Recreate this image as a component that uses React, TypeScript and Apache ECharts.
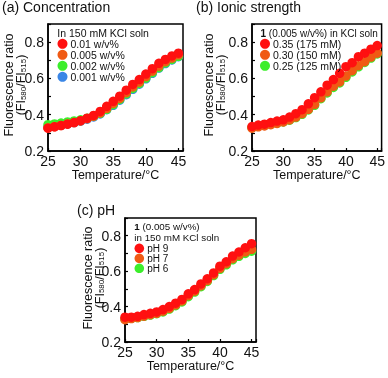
import React, { useEffect, useRef } from "react";
import * as echarts from "echarts";

const temps = [25, 26, 27, 28, 29, 30, 31, 32, 33, 34, 35, 36, 37, 38, 39, 40, 41, 42, 43, 44, 45];

// (a) Concentration
const concNames = ["0.01 w/v%", "0.005 w/v%", "0.002 w/v%", "0.001 w/v%"];
const conc001 = [0.326, 0.333, 0.340, 0.348, 0.357, 0.367, 0.381, 0.396, 0.418, 0.446, 0.474, 0.502, 0.535, 0.567, 0.594, 0.624, 0.654, 0.683, 0.705, 0.724, 0.739];
const conc0005 = [0.328, 0.334, 0.341, 0.349, 0.357, 0.366, 0.378, 0.392, 0.410, 0.435, 0.462, 0.490, 0.522, 0.553, 0.580, 0.610, 0.640, 0.668, 0.692, 0.712, 0.730];
const conc0002 = [0.345, 0.349, 0.354, 0.360, 0.366, 0.372, 0.380, 0.392, 0.408, 0.430, 0.456, 0.484, 0.515, 0.545, 0.572, 0.602, 0.632, 0.660, 0.685, 0.705, 0.722];
const conc0001 = [0.332, 0.337, 0.343, 0.350, 0.357, 0.365, 0.375, 0.388, 0.404, 0.428, 0.452, 0.480, 0.510, 0.540, 0.568, 0.598, 0.628, 0.657, 0.682, 0.702, 0.720];

// (b) Ionic strength
const ionNames = ["0.35 (175 mM)", "0.30 (150 mM)", "0.25 (125 mM)"];
const ion035 = [0.335, 0.343, 0.348, 0.357, 0.365, 0.372, 0.387, 0.406, 0.428, 0.460, 0.494, 0.526, 0.563, 0.594, 0.628, 0.665, 0.687, 0.720, 0.739, 0.761, 0.781];
const ion030 = [0.326, 0.333, 0.338, 0.345, 0.352, 0.360, 0.372, 0.387, 0.406, 0.430, 0.457, 0.493, 0.526, 0.557, 0.581, 0.613, 0.643, 0.670, 0.692, 0.718, 0.739];
const ion025 = [0.330, 0.340, 0.342, 0.348, 0.354, 0.360, 0.370, 0.384, 0.402, 0.426, 0.452, 0.488, 0.520, 0.550, 0.575, 0.606, 0.636, 0.664, 0.688, 0.712, 0.735];

// (c) pH
const phNames = ["pH 9", "pH 7", "pH 6"];
const ph9 = [0.340, 0.340, 0.345, 0.355, 0.362, 0.370, 0.383, 0.400, 0.419, 0.440, 0.472, 0.496, 0.528, 0.557, 0.590, 0.628, 0.653, 0.685, 0.708, 0.732, 0.755];
const ph7 = [0.326, 0.332, 0.338, 0.346, 0.354, 0.362, 0.374, 0.390, 0.410, 0.432, 0.462, 0.487, 0.518, 0.547, 0.580, 0.616, 0.642, 0.670, 0.690, 0.708, 0.723];
const ph6 = [0.330, 0.334, 0.338, 0.345, 0.352, 0.360, 0.370, 0.386, 0.405, 0.426, 0.456, 0.482, 0.512, 0.542, 0.575, 0.610, 0.636, 0.664, 0.684, 0.700, 0.713];

const titles = ["(a) Concentration", "(b) Ionic strength", "(c) pH"];
const xTickLabels = [25, 30, 35, 40, 45];
const yTickLabels = [0.2, 0.4, 0.6, 0.8];

const RED = "#ff1010";
const ORANGE = "#f05a14";
const GREEN = "#3cee2c";
const BLUE = "#3a86e6";

const FONT = "'Liberation Sans Narrow', 'Arial Narrow', 'Liberation Sans', Arial, sans-serif";
const FONT_N = "'Liberation Sans', Arial, sans-serif";

const pairs = (ys: number[]) => temps.map((t, i) => [t, ys[i]]);

export default function App() {
  const ref = useRef<HTMLDivElement>(null);
  useEffect(() => {
    if (!ref.current) return;
    const chart = echarts.init(ref.current, undefined, { renderer: "svg" });
    const grids = [
      { left: 48, top: 24, width: 135, height: 127 },
      { left: 252, top: 24, width: 134, height: 127 },
      { left: 125, top: 218, width: 131, height: 124 },
    ];
    const xAxis = grids.map((_, i) => ({
      type: "value",
      gridIndex: i,
      min: 25,
      max: 45.7,
      interval: 5,
      name: "Temperature/°C",
      nameLocation: "middle",
      nameGap: 15,
      nameTextStyle: { fontFamily: FONT, fontSize: 12.5, color: "#111" },
      axisLine: { lineStyle: { color: "#000", width: 1.5 } },
      axisTick: { inside: true, length: 3, lineStyle: { color: "#000", width: 1.2 } },
      axisLabel: {
        margin: 3,
        fontFamily: FONT,
        fontSize: 14,
        color: "#111",
        formatter: (v: number) => (xTickLabels.includes(Math.round(v * 100) / 100) ? String(v) : ""),
      },
      splitLine: { show: false },
    }));
    const yAxis = grids.map((_, i) => ({
      type: "value",
      gridIndex: i,
      min: 0.2,
      max: 0.9,
      interval: 0.1,
      axisLine: { lineStyle: { color: "#000", width: 1.5 } },
      axisTick: { inside: true, length: 3, lineStyle: { color: "#000", width: 1.2 } },
      axisLabel: {
        margin: 4,
        fontFamily: FONT,
        fontSize: 14,
        color: "#111",
        formatter: (v: number) => {
          const r = Math.round(v * 10) / 10;
          return yTickLabels.includes(r) ? r.toFixed(1) : "";
        },
      },
      splitLine: { show: false },
    }));
    const sc = (name: string, data: number[], color: string, idx: number) => ({
      type: "scatter",
      name,
      xAxisIndex: idx,
      yAxisIndex: idx,
      data: pairs(data),
      symbol: "circle",
      symbolSize: 9.5,
      itemStyle: { color, opacity: 1 },
    });
    const series = [
      sc(concNames[3], conc0001, BLUE, 0),
      sc(concNames[2], conc0002, GREEN, 0),
      sc(concNames[1], conc0005, ORANGE, 0),
      sc(concNames[0], conc001, RED, 0),
      sc(ionNames[2], ion025, GREEN, 1),
      sc(ionNames[1], ion030, ORANGE, 1),
      sc(ionNames[0], ion035, RED, 1),
      sc(phNames[2], ph6, GREEN, 2),
      sc(phNames[1], ph7, ORANGE, 2),
      sc(phNames[0], ph9, RED, 2),
    ];
    const leg = (names: string[], left: number, top: number, pitch = 10, fs = 10.5) => ({
      data: names,
      orient: "vertical",
      left,
      top,
      padding: 0,
      itemGap: 0,
      itemWidth: 10,
      itemHeight: pitch,
      icon: "circle",
      selectedMode: false,
      textStyle: { fontFamily: FONT_N, fontSize: fs, lineHeight: pitch, color: "#111", padding: [0, 0, 0, -2] },
    });
    const yName = (x: number, y: number) => ({
      type: "text",
      x,
      y,
      rotation: Math.PI / 2,
      style: {
        text: "{a|Fluorescence ratio}\n{a|(FI}{s|580}{a|/FI}{s|515}{a|)}",
        align: "center",
        verticalAlign: "middle",
        fill: "#111",
        rich: {
          a: { fontFamily: FONT_N, fontSize: 12.5, lineHeight: 12, fill: "#111" },
          s: { fontFamily: FONT_N, fontSize: 8, lineHeight: 7, verticalAlign: "bottom", fill: "#111" },
        },
      },
    });
    const hdr = (x: number, y: number, text: string, fs = 10.5) => ({
      type: "text",
      x,
      y,
      style: {
        text,
        align: "left",
        verticalAlign: "middle",
        fill: "#111",
        fontFamily: FONT_N,
        fontSize: fs,
        rich: {
          b: { fontFamily: FONT_N, fontSize: fs, fontWeight: "bold", fill: "#111" },
          n: { fontFamily: FONT_N, fontSize: fs, fill: "#111" },
        },
      },
    });
    chart.setOption({
      animation: false,
      title: [
        { text: titles[0], left: 2, top: 0 },
        { text: titles[1], left: 196, top: 0 },
        { text: titles[2], left: 77, top: 203 },
      ].map((t) => ({ ...t, padding: 0, textStyle: { fontFamily: FONT_N, fontSize: 14, fontWeight: "normal", color: "#111" } })),
      grid: grids.map((g) => ({ ...g, show: true, borderColor: "#000", borderWidth: 1.5, backgroundColor: "transparent" })),
      xAxis,
      yAxis,
      legend: [
        leg(concNames, 57.5, 38.3),
        leg(ionNames, 260, 38.3),
        leg(phNames, 134.5, 243.3, 9.6, 10),
      ],
      series,
      graphic: [
        yName(15, 85),
        yName(214.5, 85),
        yName(93.5, 278),
        hdr(57.3, 33.3, "In 150 mM KCl soln"),
        hdr(260.5, 33.3, "{b|1}{n| (0.005 w/v%) in KCl soln}", 10),
        hdr(134.3, 226.8, "{b|1}{n| (0.005 w/v%)}", 9.8),
        hdr(134.3, 237.8, "in 150 mM KCl soln", 9.8),
      ],
    });
    return () => chart.dispose();
  }, []);
  return <div ref={ref} style={{ position: "fixed", left: 0, top: 0, width: 388, height: 378 }} />;
}
